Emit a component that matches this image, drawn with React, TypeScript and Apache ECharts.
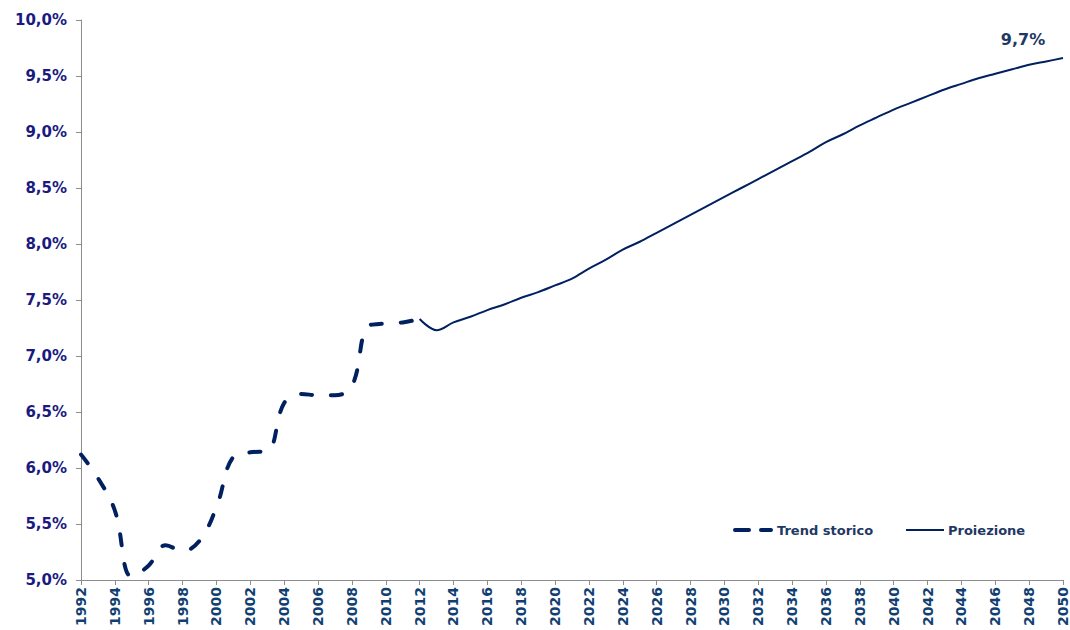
import React, { useEffect, useRef } from "react";
import * as echarts from "echarts";

const years: string[] = [];
for (let y = 1992; y <= 2050; y++) years.push(String(y));

// Trend storico 1992-2012
const historical = [
  6.12, 5.91, 5.62, 5.03, 5.13, 5.31, 5.26, 5.35, 5.65, 6.1, 6.14,
  6.15, 6.58, 6.66, 6.65, 6.65, 6.73, 7.27, 7.29, 7.3, 7.33,
];
// Proiezione 2012-2050
const projection = [
  7.33, 7.23, 7.3, 7.35, 7.41, 7.46, 7.52, 7.57, 7.63, 7.69, 7.78, 7.86,
  7.95, 8.02, 8.1, 8.18, 8.26, 8.34, 8.42, 8.5, 8.58, 8.66, 8.74, 8.82,
  8.91, 8.98, 9.06, 9.13, 9.2, 9.26, 9.32, 9.38, 9.43, 9.48, 9.52, 9.56,
  9.6, 9.63, 9.66,
];
const projectionStart = 2012;
const seriesNames = ["Trend storico", "Proiezione"];

const FONT = "DejaVu Sans";
const LINE = "#002060";
const DASH = [11, 19];

const pct = (v: number) => v.toFixed(1).replace(".", ",") + "%";

export default function App() {
  const ref = useRef<HTMLDivElement>(null);
  useEffect(() => {
    if (!ref.current) return;
    const chart = echarts.init(ref.current, undefined, { renderer: "svg" });
    const histData = years.map((y, i) => (i < historical.length ? historical[i] : null));
    const off = projectionStart - 1992;
    const projData = years.map((y, i) => {
      const j = i - off;
      return j < 0 || j >= projection.length ? null : projection[j];
    });
    const lastVal = projection[projection.length - 1];
    const legendText = {
      fill: "#1f3864",
      fontFamily: FONT,
      fontWeight: "bold",
      fontSize: 13,
      verticalAlign: "middle",
    };
    chart.setOption({
      animation: false,
      backgroundColor: "#ffffff",
      grid: { left: 81, right: 6, top: 20, bottom: 50, containLabel: false },
      graphic: [
        {
          type: "line",
          shape: { x1: 735, y1: 530, x2: 771, y2: 530 },
          style: { stroke: LINE, lineWidth: 4, lineDash: [14, 12], lineCap: "round" },
        },
        { type: "text", x: 777, y: 530, style: { ...legendText, text: seriesNames[0] } },
        {
          type: "line",
          shape: { x1: 906, y1: 530, x2: 944, y2: 530 },
          style: { stroke: LINE, lineWidth: 2 },
        },
        { type: "text", x: 948, y: 530, style: { ...legendText, text: seriesNames[1] } },
      ],
      xAxis: {
        type: "category",
        data: years,
        boundaryGap: false,
        axisLine: { lineStyle: { color: "#8c8c8c", width: 1 } },
        axisTick: { interval: 1, length: 5, lineStyle: { color: "#8c8c8c" } },
        axisLabel: {
          interval: 1,
          rotate: 90,
          margin: 7,
          color: "#123f72",
          fontFamily: FONT,
          fontWeight: "bold",
          fontSize: 14,
        },
        splitLine: { show: false },
      },
      yAxis: {
        type: "value",
        min: 5,
        max: 10,
        interval: 0.5,
        axisLine: { show: true, lineStyle: { color: "#8c8c8c", width: 1 } },
        axisTick: { show: true, length: 5, lineStyle: { color: "#8c8c8c" } },
        splitLine: { show: false },
        axisLabel: {
          margin: 14,
          color: "#1a1a80",
          fontFamily: FONT,
          fontWeight: "bold",
          fontSize: 15,
          formatter: (v: number) => pct(v),
        },
      },
      series: [
        {
          name: seriesNames[0],
          type: "line",
          data: histData,
          smooth: 0.4,
          symbol: "none",
          connectNulls: false,
          lineStyle: { color: LINE, width: 4, type: DASH, cap: "round" },
          itemStyle: { color: LINE },
        },
        {
          name: seriesNames[1],
          type: "line",
          data: projData,
          smooth: 0.35,
          symbol: "none",
          lineStyle: { color: LINE, width: 2 },
          itemStyle: { color: LINE },
          markPoint: {
            symbol: "circle",
            symbolSize: 1,
            itemStyle: { color: "rgba(0,0,0,0)" },
            label: {
              show: true,
              position: "top",
              offset: [-40, -5],
              formatter: () => pct(lastVal),
              color: "#1f3864",
              fontFamily: FONT,
              fontWeight: "bold",
              fontSize: 16,
            },
            data: [{ coord: [years[years.length - 1], lastVal] }],
          },
        },
      ],
    });
    return () => chart.dispose();
  }, []);
  return <div ref={ref} style={{ width: 1070, height: 630, position: "absolute", left: 0, top: 0 }} />;
}
